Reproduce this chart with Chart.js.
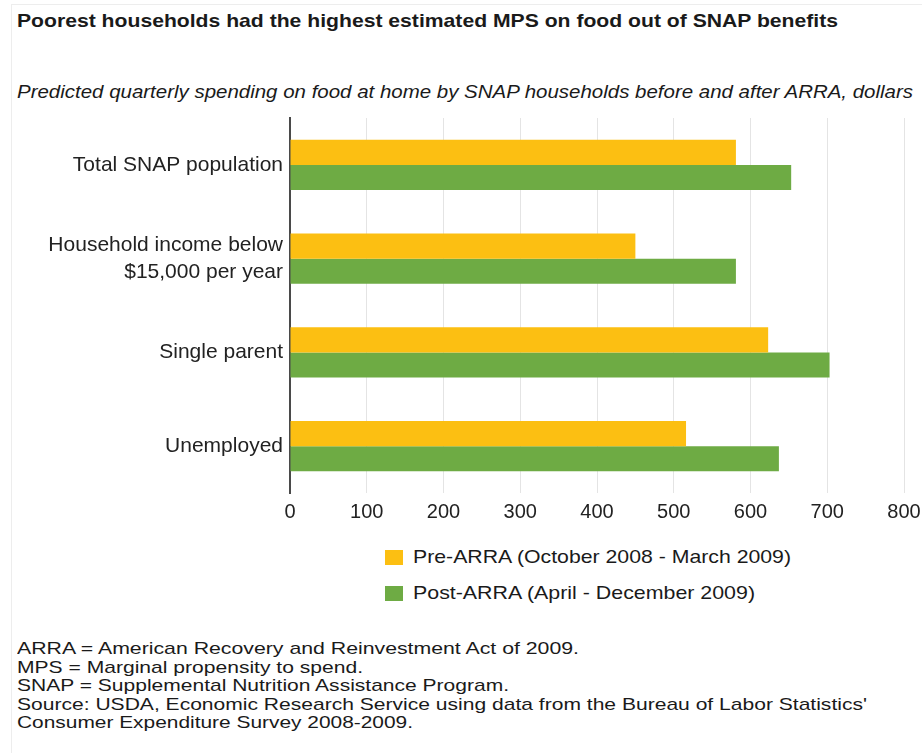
<!DOCTYPE html>
<html>
<head>
<meta charset="utf-8">
<script src="https://cdn.jsdelivr.net/npm/chart.js@4/dist/chart.umd.min.js"></script>
<style>
  html, body { margin: 0; padding: 0; background: #fff; }
  body { width: 922px; height: 753px; position: relative; overflow: hidden; font-family: "Liberation Sans", Arial, Helvetica, sans-serif; color: #1a1a1a; }
  .frame { position: absolute; left: 11px; top: 4px; right: 0; bottom: 0; border-left: 1px solid #ededed; border-top: 1px solid #ededed; }
  .line { position: absolute; left: 17px; white-space: nowrap; transform-origin: 0 50%; }
  #title { top: 9px; font-weight: bold; font-size: 19px; line-height: 24px; }
  #subtitle { top: 80px; font-style: italic; font-size: 18px; line-height: 24px; }
  #chartWrap { position: absolute; left: 0; top: 100px; width: 922px; height: 440px; }
  #legend { position: absolute; left: 385px; top: 548px; }
  .lg-item { position: relative; height: 36px; }
  .lg-box { position: absolute; left: 0; top: 2px; width: 18px; height: 15px; }
  .lg-text { position: absolute; left: 28px; top: -2px; font-size: 19px; line-height: 22px; white-space: nowrap; transform-origin: 0 50%; }
  #notes { position: absolute; left: 17px; top: 640px; font-size: 17px; line-height: 18.6px; }
  #notes div { white-space: nowrap; transform-origin: 0 50%; }
</style>
</head>
<body>
<div class="frame"></div>
<div id="title" class="line">Poorest households had the highest estimated MPS on food out of SNAP benefits</div>
<div id="subtitle" class="line">Predicted quarterly spending on food at home by SNAP households before and after ARRA, dollars</div>
<div id="chartWrap"><canvas id="c" width="922" height="440"></canvas></div>
<div id="legend"></div>
<div id="notes"></div>
<script>
// ---- data ----
const categories = [
  "Total SNAP population",
  ["Household income below", "$15,000 per year"],
  "Single parent",
  "Unemployed"
];
const seriesNames = [
  "Pre-ARRA (October 2008 - March 2009)",
  "Post-ARRA (April - December 2009)"
];
const preARRA  = [581, 450, 623, 516];
const postARRA = [653, 581, 703, 637];
const xTickMin = 0;
const xTickMax = 800;
const xTickStep = 100;
const footnotes = [
  "ARRA = American Recovery and Reinvestment Act of 2009.",
  "MPS = Marginal propensity to spend.",
  "SNAP = Supplemental Nutrition Assistance Program.",
  "Source: USDA, Economic Research Service using data from the Bureau of Labor Statistics'",
  "Consumer Expenditure Survey 2008-2009."
];

// ---- styles ----
const colors = ["#FCBF12", "#6EAB44"];
const FONT = '"Liberation Sans", Arial, Helvetica, sans-serif';

const chart = new Chart(document.getElementById("c"), {
  type: "bar",
  data: {
    labels: categories,
    datasets: [
      { label: seriesNames[0], data: preARRA, backgroundColor: colors[0], borderWidth: 0 },
      { label: seriesNames[1], data: postARRA, backgroundColor: colors[1], borderWidth: 0 }
    ]
  },
  options: {
    indexAxis: "y",
    responsive: false,
    animation: false,
    devicePixelRatio: 1,
    layout: { padding: { top: 18, right: 18, left: 0, bottom: 0 } },
    datasets: { bar: { categoryPercentage: 0.535, barPercentage: 1.0 } },
    plugins: { legend: { display: false }, tooltip: { enabled: false } },
    scales: {
      x: {
        min: xTickMin, max: xTickMax,
        ticks: { stepSize: xTickStep, color: "#222", font: { family: FONT, size: 20 }, padding: 7, maxRotation: 0 },
        grid: { color: "#e4e4e4", lineWidth: 1, drawTicks: false },
        border: { display: false },
        afterFit: (s) => { s.height = 47; s.paddingLeft = 0; s.paddingRight = 0; }
      },
      y: {
        ticks: { color: "#222", font: { family: FONT, size: 21, lineHeight: 1.28 }, padding: 7 },
        grid: { display: false, drawTicks: false },
        border: { display: true, color: "#4a4a4a", width: 2 },
        afterFit: (s) => { s.width = 290; s.paddingTop = 0; s.paddingBottom = 0; }
      }
    }
  }
});

// ---- legend built from the datasets ----
const legend = document.getElementById("legend");
chart.data.datasets.forEach((ds) => {
  const item = document.createElement("div");
  item.className = "lg-item";
  const box = document.createElement("div");
  box.className = "lg-box";
  box.style.background = ds.backgroundColor;
  const txt = document.createElement("div");
  txt.className = "lg-text";
  txt.textContent = ds.label;
  item.appendChild(box);
  item.appendChild(txt);
  legend.appendChild(item);
});

// ---- notes ----
const notes = document.getElementById("notes");
footnotes.forEach((t) => {
  const d = document.createElement("div");
  d.textContent = t;
  notes.appendChild(d);
});

// ---- fit text widths to the reference ----
function fit(el, w) {
  el.style.display = "inline-block";
  const nat = el.getBoundingClientRect().width;
  if (nat > 0) el.style.transform = "scaleX(" + (w / nat) + ")";
}
fit(document.getElementById("title"), 821);
fit(document.getElementById("subtitle"), 896);
const lgTexts = legend.querySelectorAll(".lg-text");
fit(lgTexts[0], 378);
fit(lgTexts[1], 342);
const noteWidths = [562, 346, 492, 850, 396];
notes.querySelectorAll("div").forEach((d, i) => {
  d.style.display = "block";
  const span = document.createElement("span");
  span.textContent = d.textContent;
  d.textContent = "";
  d.appendChild(span);
  span.style.display = "inline-block";
  span.style.transformOrigin = "0 50%";
  const nat = span.getBoundingClientRect().width;
  span.style.transform = "scaleX(" + (noteWidths[i] / nat) + ")";
});
</script>
</body>
</html>
